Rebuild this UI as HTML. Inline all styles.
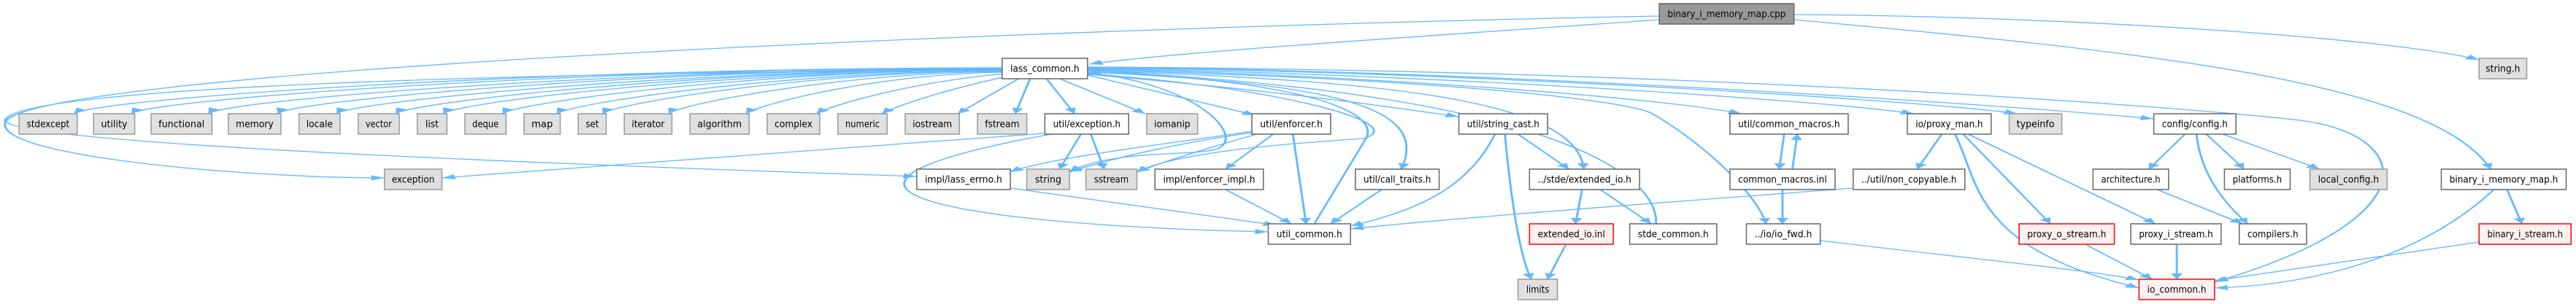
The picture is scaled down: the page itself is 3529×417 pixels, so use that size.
<!DOCTYPE html>
<html><head><meta charset="utf-8"><style>
html,body{margin:0;padding:0;background:#fff;}
svg{display:block;}
text{font-family:"DejaVu Sans","Liberation Sans",sans-serif;font-size:13px;fill:#000;}
.e{fill:none;stroke:#63b8ff;stroke-width:1.3;vector-effect:non-scaling-stroke;}
.n rect{vector-effect:non-scaling-stroke;stroke-width:1.5;}
.w rect{fill:#fff;stroke:#666;}
.g rect{fill:#e0e0e0;stroke:#999;}
.r rect{fill:#fff0f0;stroke:#f00;}
.k rect{fill:#999;stroke:#666;}
</style></head><body>
<svg width="3529" height="417" viewBox="0 0 1568 417" preserveAspectRatio="none">
<defs><marker id="a" markerUnits="userSpaceOnUse" markerWidth="8" markerHeight="8" refX="6" refY="3" orient="auto" viewBox="0 0 6 6"><path d="M0,0.3 L6,3 L0,5.7 z" fill="#63b8ff"/></marker></defs>
<g class="e" marker-end="url(#a)">
<path d="M1010,27 C900,45 720,70 663,88"/>
<path d="M1092,20 C1250,22 1450,50 1509,82"/>
<path d="M1092,27 C1300,70 1480,110 1516,232"/>
<path d="M1010,22 C600,40 5,100 3,170 C1,215 150,244 234,244"/>
<path d="M610,96 C300,100 10,120 3,165 C5,190 200,215 558,242"/>
<path d="M610,93 C330,93 60,135 45,156"/>
<path d="M610,93 C345,94 90,137 80,156"/>
<path d="M610,94 C370,95 135,138 127,156"/>
<path d="M610,94 C390,95 175,139 169,156"/>
<path d="M610,95 C410,96 212,140 205,156"/>
<path d="M610,95 C425,96 248,141 241,156"/>
<path d="M610,96 C440,97 276,141 270,156"/>
<path d="M610,96 C458,97 312,142 306,156"/>
<path d="M610,97 C475,98 345,143 339,156"/>
<path d="M610,97 C490,99 372,143 367,156"/>
<path d="M610,98 C510,100 412,144 407,156"/>
<path d="M610,99 C530,102 460,145 454,156"/>
<path d="M612,101 C555,112 505,145 497,156"/>
<path d="M615,104 C580,120 545,145 537,156"/>
<path d="M620,108 L583,156"/>
<path d="M627,108 L618,156"/>
<path d="M637,108 L654,156"/>
<path d="M645,108 L697,156"/>
<path d="M662,103 L764,158"/>
<path d="M662,95 C800,100 1000,130 1060,156"/>
<path d="M662,94 C850,100 1100,135 1165,156"/>
<path d="M662,93 C900,98 1180,140 1228,156"/>
<path d="M662,92 C900,96 1200,140 1311,163"/>
<path d="M662,92 C1000,95 1300,140 1400,165 C1470,185 1480,300 1348,387"/>
<path d="M662,102 C780,125 840,145 888,160"/>
<path d="M662,99 C820,115 870,150 853,232"/>
<path d="M662,97 C850,110 960,140 964,232"/>
<path d="M1008,307 C1010,250 960,130 662,97"/>
<path d="M662,96 C900,110 990,140 1005,155 C1040,200 1070,270 1075,307"/>
<path d="M800,307 L832,188 C840,140 760,105 662,99"/>
<path d="M662,100 C730,115 760,190 740,205 C720,215 680,205 651,235"/>
<path d="M662,101 C780,120 860,170 830,190 C800,195 720,205 692,236"/>
<path d="M762,180 C720,195 640,215 615,236"/>
<path d="M762,182 C720,195 680,215 651,236"/>
<path d="M765,184 C740,200 710,220 692,236"/>
<path d="M775,184 L746,232"/>
<path d="M787,184 L795,307"/>
<path d="M636,183 C500,205 350,230 269,244"/>
<path d="M658,184 L645,232"/>
<path d="M664,184 L672,232"/>
<path d="M640,184 C600,200 540,230 552,260 C570,300 700,315 772,318"/>
<path d="M615,258 L777,309"/>
<path d="M746,260 L786,307"/>
<path d="M841,260 L810,307"/>
<path d="M910,184 C895,250 870,285 822,310"/>
<path d="M924,184 L955,232"/>
<path d="M916,184 C920,280 925,350 932,383"/>
<path d="M963,260 L959,307"/>
<path d="M974,260 L1005,307"/>
<path d="M953,336 L942,383"/>
<path d="M1086,184 L1083,232"/>
<path d="M1091,232 L1094,184"/>
<path d="M1085,260 L1085,307"/>
<path d="M1128,258 C1000,280 880,300 822,314"/>
<path d="M1108,330 C1200,355 1270,370 1302,384"/>
<path d="M1182,184 L1167,232"/>
<path d="M1190,184 C1205,250 1200,340 1302,395"/>
<path d="M1195,184 L1248,307"/>
<path d="M1198,184 L1312,307"/>
<path d="M1270,336 L1310,383"/>
<path d="M1325,336 L1325,383"/>
<path d="M1330,184 L1308,232"/>
<path d="M1343,184 L1366,232"/>
<path d="M1353,184 L1412,232"/>
<path d="M1337,184 C1340,250 1360,290 1368,307"/>
<path d="M1313,260 L1365,307"/>
<path d="M1526,260 L1535,307"/>
<path d="M1518,260 C1480,340 1420,390 1348,395"/>
<path d="M1509,332 L1348,385"/>
</g>
<g class="n">
<g class="k"><rect x="1010" y="5" width="82" height="28"/><text x="1051" y="23.5" text-anchor="middle" textLength="72" lengthAdjust="spacingAndGlyphs">binary_i_memory_map.cpp</text></g>
<g class="w"><rect x="610" y="80" width="52" height="28"/><text x="636" y="98.5" text-anchor="middle" textLength="42" lengthAdjust="spacingAndGlyphs">lass_common.h</text></g>
<g class="g"><rect x="1509" y="80" width="29" height="28"/><text x="1523.5" y="98.5" text-anchor="middle" textLength="21" lengthAdjust="spacingAndGlyphs">string.h</text></g>

<g class="g"><rect x="11.6" y="156" width="35.4" height="28"/><text x="29.3" y="174.5" text-anchor="middle" textLength="26" lengthAdjust="spacingAndGlyphs">stdexcept</text></g>
<g class="g"><rect x="57" y="156" width="25" height="28"/><text x="69.5" y="174.5" text-anchor="middle" textLength="16" lengthAdjust="spacingAndGlyphs">utility</text></g>
<g class="g"><rect x="92" y="156" width="37" height="28"/><text x="110.5" y="174.5" text-anchor="middle" textLength="28" lengthAdjust="spacingAndGlyphs">functional</text></g>
<g class="g"><rect x="139" y="156" width="32" height="28"/><text x="155" y="174.5" text-anchor="middle" textLength="23" lengthAdjust="spacingAndGlyphs">memory</text></g>
<g class="g"><rect x="182" y="156" width="25" height="28"/><text x="194.5" y="174.5" text-anchor="middle" textLength="16" lengthAdjust="spacingAndGlyphs">locale</text></g>
<g class="g"><rect x="218" y="156" width="25" height="28"/><text x="230.5" y="174.5" text-anchor="middle" textLength="16" lengthAdjust="spacingAndGlyphs">vector</text></g>
<g class="g"><rect x="254" y="156" width="18" height="28"/><text x="263" y="174.5" text-anchor="middle" textLength="8" lengthAdjust="spacingAndGlyphs">list</text></g>
<g class="g"><rect x="283" y="156" width="25" height="28"/><text x="295.5" y="174.5" text-anchor="middle" textLength="16" lengthAdjust="spacingAndGlyphs">deque</text></g>
<g class="g"><rect x="319" y="156" width="22" height="28"/><text x="330" y="174.5" text-anchor="middle" textLength="13" lengthAdjust="spacingAndGlyphs">map</text></g>
<g class="g"><rect x="352" y="156" width="17" height="28"/><text x="360.5" y="174.5" text-anchor="middle" textLength="8" lengthAdjust="spacingAndGlyphs">set</text></g>
<g class="g"><rect x="380" y="156" width="29" height="28"/><text x="394.5" y="174.5" text-anchor="middle" textLength="20" lengthAdjust="spacingAndGlyphs">iterator</text></g>
<g class="g"><rect x="420" y="156" width="36" height="28"/><text x="438" y="174.5" text-anchor="middle" textLength="27" lengthAdjust="spacingAndGlyphs">algorithm</text></g>
<g class="g"><rect x="467" y="156" width="32" height="28"/><text x="483" y="174.5" text-anchor="middle" textLength="23" lengthAdjust="spacingAndGlyphs">complex</text></g>
<g class="g"><rect x="510" y="156" width="30" height="28"/><text x="525" y="174.5" text-anchor="middle" textLength="21" lengthAdjust="spacingAndGlyphs">numeric</text></g>
<g class="g"><rect x="551" y="156" width="33" height="28"/><text x="567.5" y="174.5" text-anchor="middle" textLength="24" lengthAdjust="spacingAndGlyphs">iostream</text></g>
<g class="g"><rect x="595" y="156" width="30" height="28"/><text x="610" y="174.5" text-anchor="middle" textLength="21" lengthAdjust="spacingAndGlyphs">fstream</text></g>
<g class="w"><rect x="636" y="156" width="51" height="28"/><text x="661.5" y="174.5" text-anchor="middle" textLength="41" lengthAdjust="spacingAndGlyphs">util/exception.h</text></g>
<g class="g"><rect x="698" y="156" width="31" height="28"/><text x="713.5" y="174.5" text-anchor="middle" textLength="22" lengthAdjust="spacingAndGlyphs">iomanip</text></g>
<g class="w"><rect x="762" y="156" width="48" height="28"/><text x="786" y="174.5" text-anchor="middle" textLength="38" lengthAdjust="spacingAndGlyphs">util/enforcer.h</text></g>
<g class="w"><rect x="888" y="156" width="54" height="28"/><text x="915" y="174.5" text-anchor="middle" textLength="44" lengthAdjust="spacingAndGlyphs">util/string_cast.h</text></g>
<g class="w"><rect x="1053" y="156" width="72" height="28"/><text x="1089" y="174.5" text-anchor="middle" textLength="62" lengthAdjust="spacingAndGlyphs">util/common_macros.h</text></g>
<g class="w"><rect x="1161" y="156" width="51" height="28"/><text x="1186.5" y="174.5" text-anchor="middle" textLength="41" lengthAdjust="spacingAndGlyphs">io/proxy_man.h</text></g>
<g class="g"><rect x="1223" y="156" width="32" height="28"/><text x="1239" y="174.5" text-anchor="middle" textLength="23" lengthAdjust="spacingAndGlyphs">typeinfo</text></g>
<g class="w"><rect x="1311" y="156" width="50" height="28"/><text x="1336" y="174.5" text-anchor="middle" textLength="40" lengthAdjust="spacingAndGlyphs">config/config.h</text></g>

<g class="g"><rect x="234" y="232" width="35" height="28"/><text x="251.5" y="250.5" text-anchor="middle" textLength="26" lengthAdjust="spacingAndGlyphs">exception</text></g>
<g class="w"><rect x="558" y="232" width="57" height="28"/><text x="586.5" y="250.5" text-anchor="middle" textLength="47" lengthAdjust="spacingAndGlyphs">impl/lass_errno.h</text></g>
<g class="g"><rect x="625" y="232" width="26" height="28"/><text x="638" y="250.5" text-anchor="middle" textLength="16" lengthAdjust="spacingAndGlyphs">string</text></g>
<g class="g"><rect x="661" y="232" width="31" height="28"/><text x="676.5" y="250.5" text-anchor="middle" textLength="21" lengthAdjust="spacingAndGlyphs">sstream</text></g>
<g class="w"><rect x="703" y="232" width="66" height="28"/><text x="736" y="250.5" text-anchor="middle" textLength="56" lengthAdjust="spacingAndGlyphs">impl/enforcer_impl.h</text></g>
<g class="w"><rect x="825" y="232" width="51" height="28"/><text x="850.5" y="250.5" text-anchor="middle" textLength="41" lengthAdjust="spacingAndGlyphs">util/call_traits.h</text></g>
<g class="w"><rect x="931" y="232" width="67" height="28"/><text x="964.5" y="250.5" text-anchor="middle" textLength="57" lengthAdjust="spacingAndGlyphs">../stde/extended_io.h</text></g>
<g class="w"><rect x="1053" y="232" width="64" height="28"/><text x="1085" y="250.5" text-anchor="middle" textLength="54" lengthAdjust="spacingAndGlyphs">common_macros.inl</text></g>
<g class="w"><rect x="1128" y="232" width="68" height="28"/><text x="1162" y="250.5" text-anchor="middle" textLength="58" lengthAdjust="spacingAndGlyphs">../util/non_copyable.h</text></g>
<g class="w"><rect x="1274" y="232" width="46" height="28"/><text x="1297" y="250.5" text-anchor="middle" textLength="36" lengthAdjust="spacingAndGlyphs">architecture.h</text></g>
<g class="w"><rect x="1354" y="232" width="40" height="28"/><text x="1374" y="250.5" text-anchor="middle" textLength="30" lengthAdjust="spacingAndGlyphs">platforms.h</text></g>
<g class="g"><rect x="1406" y="232" width="47" height="28"/><text x="1429.5" y="250.5" text-anchor="middle" textLength="37" lengthAdjust="spacingAndGlyphs">local_config.h</text></g>
<g class="w"><rect x="1486" y="232" width="76" height="28"/><text x="1524" y="250.5" text-anchor="middle" textLength="66" lengthAdjust="spacingAndGlyphs">binary_i_memory_map.h</text></g>

<g class="w"><rect x="772" y="307" width="50" height="28"/><text x="797" y="325.5" text-anchor="middle" textLength="40" lengthAdjust="spacingAndGlyphs">util_common.h</text></g>
<g class="r"><rect x="931" y="307" width="51" height="28"/><text x="956.5" y="325.5" text-anchor="middle" textLength="41" lengthAdjust="spacingAndGlyphs">extended_io.inl</text></g>
<g class="w"><rect x="992" y="307" width="53" height="28"/><text x="1018.5" y="325.5" text-anchor="middle" textLength="43" lengthAdjust="spacingAndGlyphs">stde_common.h</text></g>
<g class="w"><rect x="1063" y="307" width="45" height="28"/><text x="1085.5" y="325.5" text-anchor="middle" textLength="35" lengthAdjust="spacingAndGlyphs">../io/io_fwd.h</text></g>
<g class="r"><rect x="1229" y="307" width="58" height="28"/><text x="1258" y="325.5" text-anchor="middle" textLength="48" lengthAdjust="spacingAndGlyphs">proxy_o_stream.h</text></g>
<g class="w"><rect x="1297" y="307" width="55" height="28"/><text x="1324.5" y="325.5" text-anchor="middle" textLength="45" lengthAdjust="spacingAndGlyphs">proxy_i_stream.h</text></g>
<g class="w"><rect x="1363" y="307" width="41" height="28"/><text x="1383.5" y="325.5" text-anchor="middle" textLength="31" lengthAdjust="spacingAndGlyphs">compilers.h</text></g>
<g class="r"><rect x="1509" y="307" width="56" height="28"/><text x="1537" y="325.5" text-anchor="middle" textLength="46" lengthAdjust="spacingAndGlyphs">binary_i_stream.h</text></g>

<g class="g"><rect x="924" y="383" width="24" height="28"/><text x="936" y="401.5" text-anchor="middle" textLength="14" lengthAdjust="spacingAndGlyphs">limits</text></g>
<g class="r"><rect x="1302" y="383" width="46" height="28"/><text x="1325" y="401.5" text-anchor="middle" textLength="36" lengthAdjust="spacingAndGlyphs">io_common.h</text></g>
</g>
</svg>
</body></html>
